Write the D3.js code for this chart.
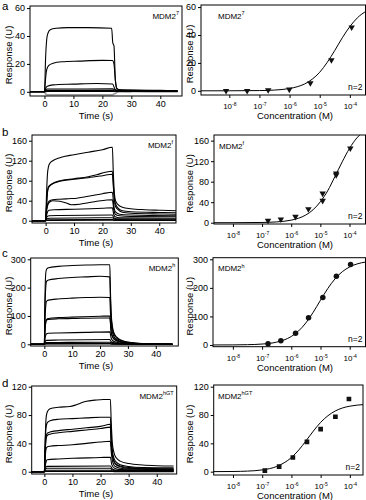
<!DOCTYPE html>
<html><head><meta charset="utf-8">
<script src="https://cdn.jsdelivr.net/npm/d3@7"></script>
<style>
body{margin:0;background:#fff}
svg{display:block}
text{font-family:"Liberation Sans",Arial,Helvetica,sans-serif;fill:#000}
</style></head>
<body><svg id="fig" width="366" height="500"></svg>
<script>
// ---------------- DATA ----------------
const panelLetters = ["a", "b", "c", "d"];
const proteinName = "MDM2";
const proteinSups = ["7", "f", "h", "hGT"];
const replicateLabel = "n=2";
const timeTicks = [0, 10, 20, 30, 40];
const concTicks = [1e-8, 1e-7, 1e-6, 1e-5, 1e-4];
const concTickExps = ["-8", "-7", "-6", "-5", "-4"];
const respTicksA = [0, 20, 40, 60];
const respTicksB = [0, 40, 80, 120, 160];
const respTicksC = [0, 100, 200, 300];
const respTicksD = [0, 40, 80, 120];

// sensorgrams: each trace = list of [time (s), response (U)]
const sensA = [
  [[-5,0],[0,0],[0.4,25],[0.8,38],[1.2,42],[2,44.5],[4,45.5],[8,46],[15,46],[23.2,45.6],[23.6,35],[24,33],[24.5,8],[25,2.5],[26,1.5],[30,1.2],[40,1],[46,0.6]],
  [[-5,0],[0,0],[0.4,10],[0.8,16],[1.5,19],[3,20.5],[6,21.5],[12,22],[20,22.5],[23.5,22.4],[24,20],[24.5,8],[25,2],[27,1.2],[46,0.8]],
  [[-5,0],[0,0],[0.5,3],[1,4],[3,5],[10,5.5],[18,6],[23.5,5.6],[24.5,1.5],[26,1],[46,0.6]],
  [[-5,0],[0,0],[0.5,1.5],[1,2],[5,2],[23.5,2.1],[25,0.9],[46,0.6]],
  [[-5,0],[0,0],[0.5,0.8],[1,1],[23.5,1],[25,0.5],[46,0.3]],
  [[-5,0],[0,0],[1,0.3],[23.5,0.3],[25,0.2],[46,0.1]]
];
const sensAGrey = [[0,0],[0.5,-1.8],[1,-2.2],[23.5,-2.2],[24.5,-1],[26,0],[30,0]];

const sensB = [
  [[-5,0],[0,0],[0.3,50],[0.6,90],[1,108],[1.5,115],[2.5,120],[5,126],[10,132],[15,137],[20,142],[23.5,147],[23.8,100],[24.2,55],[24.6,40],[25.5,32],[27,27],[30,24],[35,22],[40,21],[46,20]],
  [[-5,0],[0,0],[0.3,30],[0.6,55],[1,68],[2,73],[5,80],[10,84],[15,88],[18,92],[21,97],[23.5,99],[24,60],[24.5,35],[25.5,25],[27,20],[30,18],[40,16.5],[46,16]],
  [[-5,0],[0,0],[0.3,30],[0.6,55],[1,66],[2,72],[5,79],[10,83],[15,86],[20,90],[23.5,93],[24,55],[24.5,30],[25.5,22],[27,17],[30,15],[40,13.5],[46,13]],
  [[-5,0],[0,0],[0.3,20],[0.7,33],[1.2,39],[2.5,42],[5,43],[8,44],[11,45],[14,48],[17,51],[20,54],[23.5,57],[24,30],[24.5,18],[26,13],[30,11.5],[46,10]],
  [[-5,0],[0,0],[0.3,18],[0.7,30],[1.2,36],[2.5,40],[5,39],[7,36],[9,32],[12,33],[15,36],[18,39],[21,41],[23.5,42],[24,22],[24.5,13],[26,10],[30,8.5],[46,8]],
  [[-5,0],[0,0],[0.3,10],[0.7,18],[1.2,21],[3,22],[10,23],[20,25],[23.5,26],[24,12],[24.5,8],[26,6],[46,5]],
  [[-5,0],[0,0],[0.5,8],[1.2,10],[5,10.5],[23.5,11.5],[24,6],[25,4],[46,3]],
  [[-5,0],[0,0],[0.5,4],[1.2,5],[23.5,6],[24.5,2.5],[46,1.5]],
  [[-5,0],[0,0],[0.5,1.5],[1.2,2],[23.5,2.5],[24.5,1],[46,0.8]],
  [[-5,0],[0,0],[1,0.5],[23.5,0.8],[25,0.3],[46,0.3]]
];

const sensC = [
  [[-5,0],[0,0],[0.2,150],[0.5,250],[0.8,265],[1.5,270],[5,275],[10,278],[15,280],[20,281],[23.5,281],[23.7,200],[24,110],[24.5,60],[25,40],[26,25],[27.5,15],[30,8],[33,4],[38,1.5],[46,0.5]],
  [[-5,0],[0,0],[0.2,120],[0.5,200],[0.8,222],[1.5,227],[5,232],[10,236],[15,238],[20,240],[23.5,238],[23.7,170],[24,95],[24.5,52],[25,35],[26,22],[27.5,13],[30,7],[33,3.5],[38,1.3],[46,0.4]],
  [[-5,0],[0,0],[0.2,80],[0.5,135],[0.8,152],[1.5,156],[5,160],[10,163],[15,165],[20,166],[23.5,165],[23.7,120],[24,70],[24.5,40],[25,27],[26,17],[27.5,10],[30,5.5],[33,2.8],[38,1],[46,0.3]],
  [[-5,0],[0,0],[0.2,45],[0.5,78],[0.8,88],[1.5,91],[5,94],[10,96],[20,99],[23.5,100],[24,45],[24.5,28],[25,20],[26,13],[28,7],[30,4.5],[35,2],[46,0.3]],
  [[-5,0],[0,0],[0.2,45],[0.5,76],[0.8,86],[1.5,88],[5,90],[10,91],[20,93],[23.5,93],[24,42],[24.5,26],[25,18],[26,12],[28,6.5],[30,4],[35,1.8],[46,0.3]],
  [[-5,0],[0,0],[0.3,25],[0.8,37],[1.5,39],[5,40],[15,42],[23.5,44],[24,22],[24.5,14],[25,10],[26,7],[28,4],[30,2.5],[35,1],[46,0.2]],
  [[-5,0],[0,0],[0.3,10],[0.8,14],[5,15],[23.5,17],[24,9],[25,5],[27,3],[30,1.5],[46,0.1]],
  [[-5,0],[0,0],[0.5,6],[5,6.5],[23.5,7.5],[24.5,3],[27,1.5],[46,0]],
  [[-5,0],[0,0],[0.5,2.5],[23.5,3],[24.5,1.2],[46,0]],
  [[-5,0],[0,0],[0.5,1],[23.5,1],[25,0.3],[46,0]]
];

const sensD = [
  [[-5,0],[0,0],[0.3,45],[0.6,75],[1,84],[2,89],[5,91],[9,92],[11,94],[13,97],[15,99.5],[18,101],[21,102],[23.5,102],[23.8,70],[24.2,40],[24.7,28],[25.5,20],[27,15],[30,11.5],[35,9.5],[40,8.5],[46,8]],
  [[-5,0],[0,0],[0.3,40],[0.6,62],[1,69],[2,72],[5,74],[10,75],[15,76],[20,77],[23.5,77],[23.8,50],[24.2,30],[24.7,20],[25.5,14],[27,10],[30,7.5],[35,6],[46,5.5]],
  [[-5,0],[0,0],[0.3,30],[0.6,48],[1,54],[2,56],[5,58],[10,60],[15,62],[20,64],[23.5,67],[23.8,42],[24.2,25],[24.7,16],[25.5,11],[27,8],[30,6],[46,4]],
  [[-5,0],[0,0],[0.3,28],[0.6,46],[1,51],[2,53],[5,55],[10,57],[15,59],[20,61],[23.5,63],[23.8,40],[24.2,23],[24.7,15],[25.5,10],[27,7],[30,5],[46,3.5]],
  [[-5,0],[0,0],[0.3,20],[0.6,32],[1,35],[2,36],[5,37],[10,38],[15,40],[20,42],[23.5,43],[23.8,28],[24.2,16],[24.7,10],[25.5,7],[27,5],[30,4],[46,3]],
  [[-5,0],[0,0],[0.3,8],[0.7,15],[1,17],[5,18],[10,19],[20,20],[23.5,20.5],[24,10],[25,5],[27,3],[46,2]],
  [[-5,0],[0,0],[0.4,6],[1,7.5],[23.5,8],[24.2,4],[26,2],[46,1.5]],
  [[-5,0],[0,0],[0.4,4],[1,5],[23.5,5],[24.2,2.5],[26,1.2],[46,1]],
  [[-5,0],[0,0],[0.5,2],[23.5,2],[24.5,0.8],[46,0.5]],
  [[-5,0],[0,0],[1,0.5],[23.5,0.5],[25,0.2],[46,0.2]]
];

// equilibrium responses: concentration (M) and response (U)
const concA = [7.8e-9, 3.9e-8, 1.95e-7, 9.8e-7, 4.9e-6, 2.45e-5, 1.15e-4];
const respA = [0, 0, 0.5, 1, 5.5, 22, 45.5];
const concB = [1.6e-7, 4.4e-7, 1.4e-6, 3.9e-6, 1.2e-5, 1.2e-5, 3.5e-5, 3.5e-5, 1.07e-4];
const respB = [4, 6.5, 11.7, 26.7, 57, 43, 96, 93, 145];
const concC = [1.6e-7, 4.4e-7, 1.4e-6, 3.9e-6, 1.2e-5, 3.5e-5, 1.07e-4];
const respC = [4.5, 15, 41, 95, 166, 241, 282];
const concD = [1.23e-7, 3.8e-7, 1.12e-6, 3.4e-6, 1e-5, 3.2e-5, 9.3e-5];
const respD = [1.4, 7, 20, 42, 60, 77.6, 102.6];

// fitted curves: log10(concentration) and response
const fitLogA = [-9, -8, -7, -6.5, -6, -5.75, -5.5, -5.25, -5, -4.75, -4.5, -4.25, -4, -3.75, -3.45];
const fitRespA = [0, 0.02, 0.17, 0.53, 1.65, 2.9, 4.9, 8.3, 13.3, 20.4, 28.9, 38, 46, 52.3, 57.2];
const fitLogB = [-8.75, -8, -7, -6.5, -6, -5.75, -5.5, -5.25, -5, -4.75, -4.5, -4.25, -4, -3.75, -3.5];
const fitRespB = [0, 0.05, 0.5, 1.6, 5, 8.7, 15, 25.2, 40.8, 62, 90, 118.6, 144.8, 165, 178];
const fitLogC = [-8.75, -8, -7.5, -7, -6.5, -6, -5.75, -5.5, -5.25, -5, -4.75, -4.5, -4.25, -4, -3.75, -3.45];
const fitRespC = [0.06, 0.33, 1.05, 3.3, 10.1, 29.8, 49.2, 77.4, 114.6, 156.8, 197.9, 231.9, 256.9, 273.4, 283.7, 290.6];
const fitLogD = [-8.75, -8, -7.5, -7, -6.5, -6, -5.75, -5.5, -5.25, -5, -4.75, -4.5, -4.25, -4, -3.75, -3.45];
const fitRespD = [0.05, 0.25, 0.8, 2.5, 7.4, 20, 30.5, 43.6, 57.3, 69.6, 79, 85.7, 90, 92.5, 94, 95];

// ---------------- LAYOUT ----------------
const rows = [
  {letterY: 10, sens: sensA, grey: sensAGrey, conc: concA, resp: respA, fitLog: fitLogA, fitResp: fitRespA, yTicks: respTicksA, marker: "tri",
   L: {x0: 30, x1: 182, y0: 6, y1: 96, xd: [-5, 47.5], yd: [-3, 61.5]},
   R: {x0: 201, x1: 365.5, y0: 5, y1: 95, xd: [-8.94, -3.48], yd: [-3, 61.5], labX: 218}},
  {letterY: 136, sens: sensB, conc: concB, resp: respB, fitLog: fitLogB, fitResp: fitRespB, yTicks: respTicksB, marker: "tri",
   L: {x0: 32, x1: 176, y0: 135, y1: 223, xd: [-4.8, 45.9], yd: [-4.6, 171.4]},
   R: {x0: 214, x1: 365.5, y0: 135, y1: 224, xd: [-8.65, -3.45], yd: [-2.5, 171], labX: 219}},
  {letterY: 257, sens: sensC, conc: concC, resp: respC, fitLog: fitLogC, fitResp: fitRespC, yTicks: respTicksC, marker: "circ",
   L: {x0: 30.7, x1: 178.3, y0: 258, y1: 346, xd: [-4.9, 48.1], yd: [-6, 304.6]},
   R: {x0: 213, x1: 365.5, y0: 257.7, y1: 346.7, xd: [-8.68, -3.46], yd: [-6, 305.6], labX: 218}},
  {letterY: 387, sens: sensD, conc: concD, resp: respD, fitLog: fitLogD, fitResp: fitRespD, yTicks: respTicksD, marker: "sq",
   L: {x0: 31.7, x1: 176.7, y0: 386, y1: 474, xd: [-4.5, 47.1], yd: [-3.2, 121]},
   R: {x0: 213.7, x1: 363, y0: 385, y1: 475, xd: [-8.66, -3.55], yd: [-4.7, 122.4], labX: 218}}
];

const svg = d3.select("#fig");
const FS = 9;
const titleXLeft = 11.5, titleXRight = 193;   // baseline x of rotated y titles
const timeTitleX = 96, concTitleX = 295;

function frame(g, p) {
  g.append("rect").attr("x", p.x0).attr("y", p.y0).attr("width", p.x1 - p.x0).attr("height", p.y1 - p.y0)
    .attr("fill", "none").attr("stroke", "#000").attr("stroke-width", 1);
}
function clip(id, p) {
  svg.append("clipPath").attr("id", id).append("rect")
    .attr("x", p.x0).attr("y", p.y0).attr("width", p.x1 - p.x0).attr("height", p.y1 - p.y0);
}
function yAxis(g, p, y, ticks, tx) {
  const ax = g.append("g").attr("transform", `translate(${p.x0},0)`)
    .call(d3.axisLeft(y).tickValues(ticks).tickSize(3).tickPadding(2).tickFormat(d3.format("d")));
  ax.select(".domain").remove();
  ax.selectAll("text").attr("font-size", FS).attr("font-family", null);
  g.append("text").attr("transform", `translate(${tx},${(p.y0 + p.y1) / 2 + 4}) rotate(-90)`)
    .attr("text-anchor", "middle").attr("font-size", FS + 0.5).text("Response (U)");
}

rows.forEach((r, i) => {
  const g = svg.append("g");
  g.append("text").attr("x", 2).attr("y", r.letterY).attr("font-size", 11.5).text(panelLetters[i]);

  // ----- left: sensorgram -----
  const L = r.L;
  const xL = d3.scaleLinear().domain(L.xd).range([L.x0, L.x1]);
  const yL = d3.scaleLinear().domain(L.yd).range([L.y1, L.y0]);
  clip("cl" + i, L);
  const line = d3.line().x(d => xL(d[0])).y(d => yL(d[1])).curve(d3.curveMonotoneX);
  const gl = g.append("g").attr("clip-path", `url(#cl${i})`);
  if (r.grey) gl.append("path").attr("d", line(r.grey)).attr("fill", "none").attr("stroke", "#999").attr("stroke-width", 1.6);
  gl.selectAll("path.tr").data(r.sens).join("path").attr("class", "tr")
    .attr("d", line).attr("fill", "none").attr("stroke", "#000").attr("stroke-width", 1.1);
  frame(g, L);
  const axL = g.append("g").attr("transform", `translate(0,${L.y1})`)
    .call(d3.axisBottom(xL).tickValues(timeTicks).tickSize(3).tickPadding(2));
  axL.select(".domain").remove();
  axL.selectAll("text").attr("font-size", FS).attr("font-family", null);
  g.append("text").attr("x", timeTitleX).attr("y", L.y1 + 23).attr("text-anchor", "middle")
    .attr("font-size", FS + 0.5).text("Time (s)");
  yAxis(g, L, yL, r.yTicks, titleXLeft);
  const tl = g.append("text").attr("x", L.x1 - 3).attr("y", L.y0 + 12.5).attr("text-anchor", "end").attr("font-size", 8);
  tl.append("tspan").text(proteinName);
  tl.append("tspan").attr("dy", -3.5).attr("font-size", 5.5).text(proteinSups[i]);

  // ----- right: dose response -----
  const R = r.R;
  const xR = d3.scaleLog().domain([Math.pow(10, R.xd[0]), Math.pow(10, R.xd[1])]).range([R.x0, R.x1]);
  const yR = d3.scaleLinear().domain(R.yd).range([R.y1, R.y0]);
  clip("cr" + i, R);
  const gr = g.append("g").attr("clip-path", `url(#cr${i})`);
  const fit = r.fitLog.map((lg, k) => [Math.pow(10, lg), r.fitResp[k]]);
  gr.append("path").attr("d", d3.line().x(d => xR(d[0])).y(d => yR(d[1])).curve(d3.curveMonotoneX)(fit))
    .attr("fill", "none").attr("stroke", "#000").attr("stroke-width", 1);
  const pts = r.conc.map((c, k) => [c, r.resp[k]]);
  const sym = r.marker === "tri" ? d3.symbol(d3.symbolTriangle, 18) : r.marker === "circ" ? d3.symbol(d3.symbolCircle, 24) : d3.symbol(d3.symbolSquare, 22);
  gr.selectAll("path.pt").data(pts).join("path").attr("class", "pt")
    .attr("transform", d => `translate(${xR(d[0])},${yR(d[1])})` + (r.marker === "tri" ? " rotate(180)" : ""))
    .attr("d", sym).attr("fill", "#111");
  frame(g, R);
  const axR = g.append("g").attr("transform", `translate(0,${R.y1})`)
    .call(d3.axisBottom(xR).tickValues(concTicks).tickSize(3).tickPadding(3).tickFormat(() => ""));
  axR.select(".domain").remove();
  axR.selectAll(".tick text").each(function (d, k) {
    const t = d3.select(this).attr("font-size", 8).attr("font-family", null).attr("dy", "1em");
    t.append("tspan").text("10");
    t.append("tspan").attr("dy", -3).attr("font-size", 5).text(concTickExps[k]);
  });
  g.append("text").attr("x", concTitleX).attr("y", R.y1 + 24).attr("text-anchor", "middle")
    .attr("font-size", FS + 0.5).text("Concentration (M)");
  yAxis(g, R, yR, r.yTicks, titleXRight);
  const tr = g.append("text").attr("x", R.labX).attr("y", R.y0 + 13.5).attr("font-size", 8);
  tr.append("tspan").text(proteinName);
  tr.append("tspan").attr("dy", -3.5).attr("font-size", 5.5).text(proteinSups[i]);
  g.append("text").attr("x", R.x1 - 3).attr("y", R.y1 - 5).attr("text-anchor", "end").attr("font-size", 8.5).text(replicateLabel);
});
</script></body></html>
